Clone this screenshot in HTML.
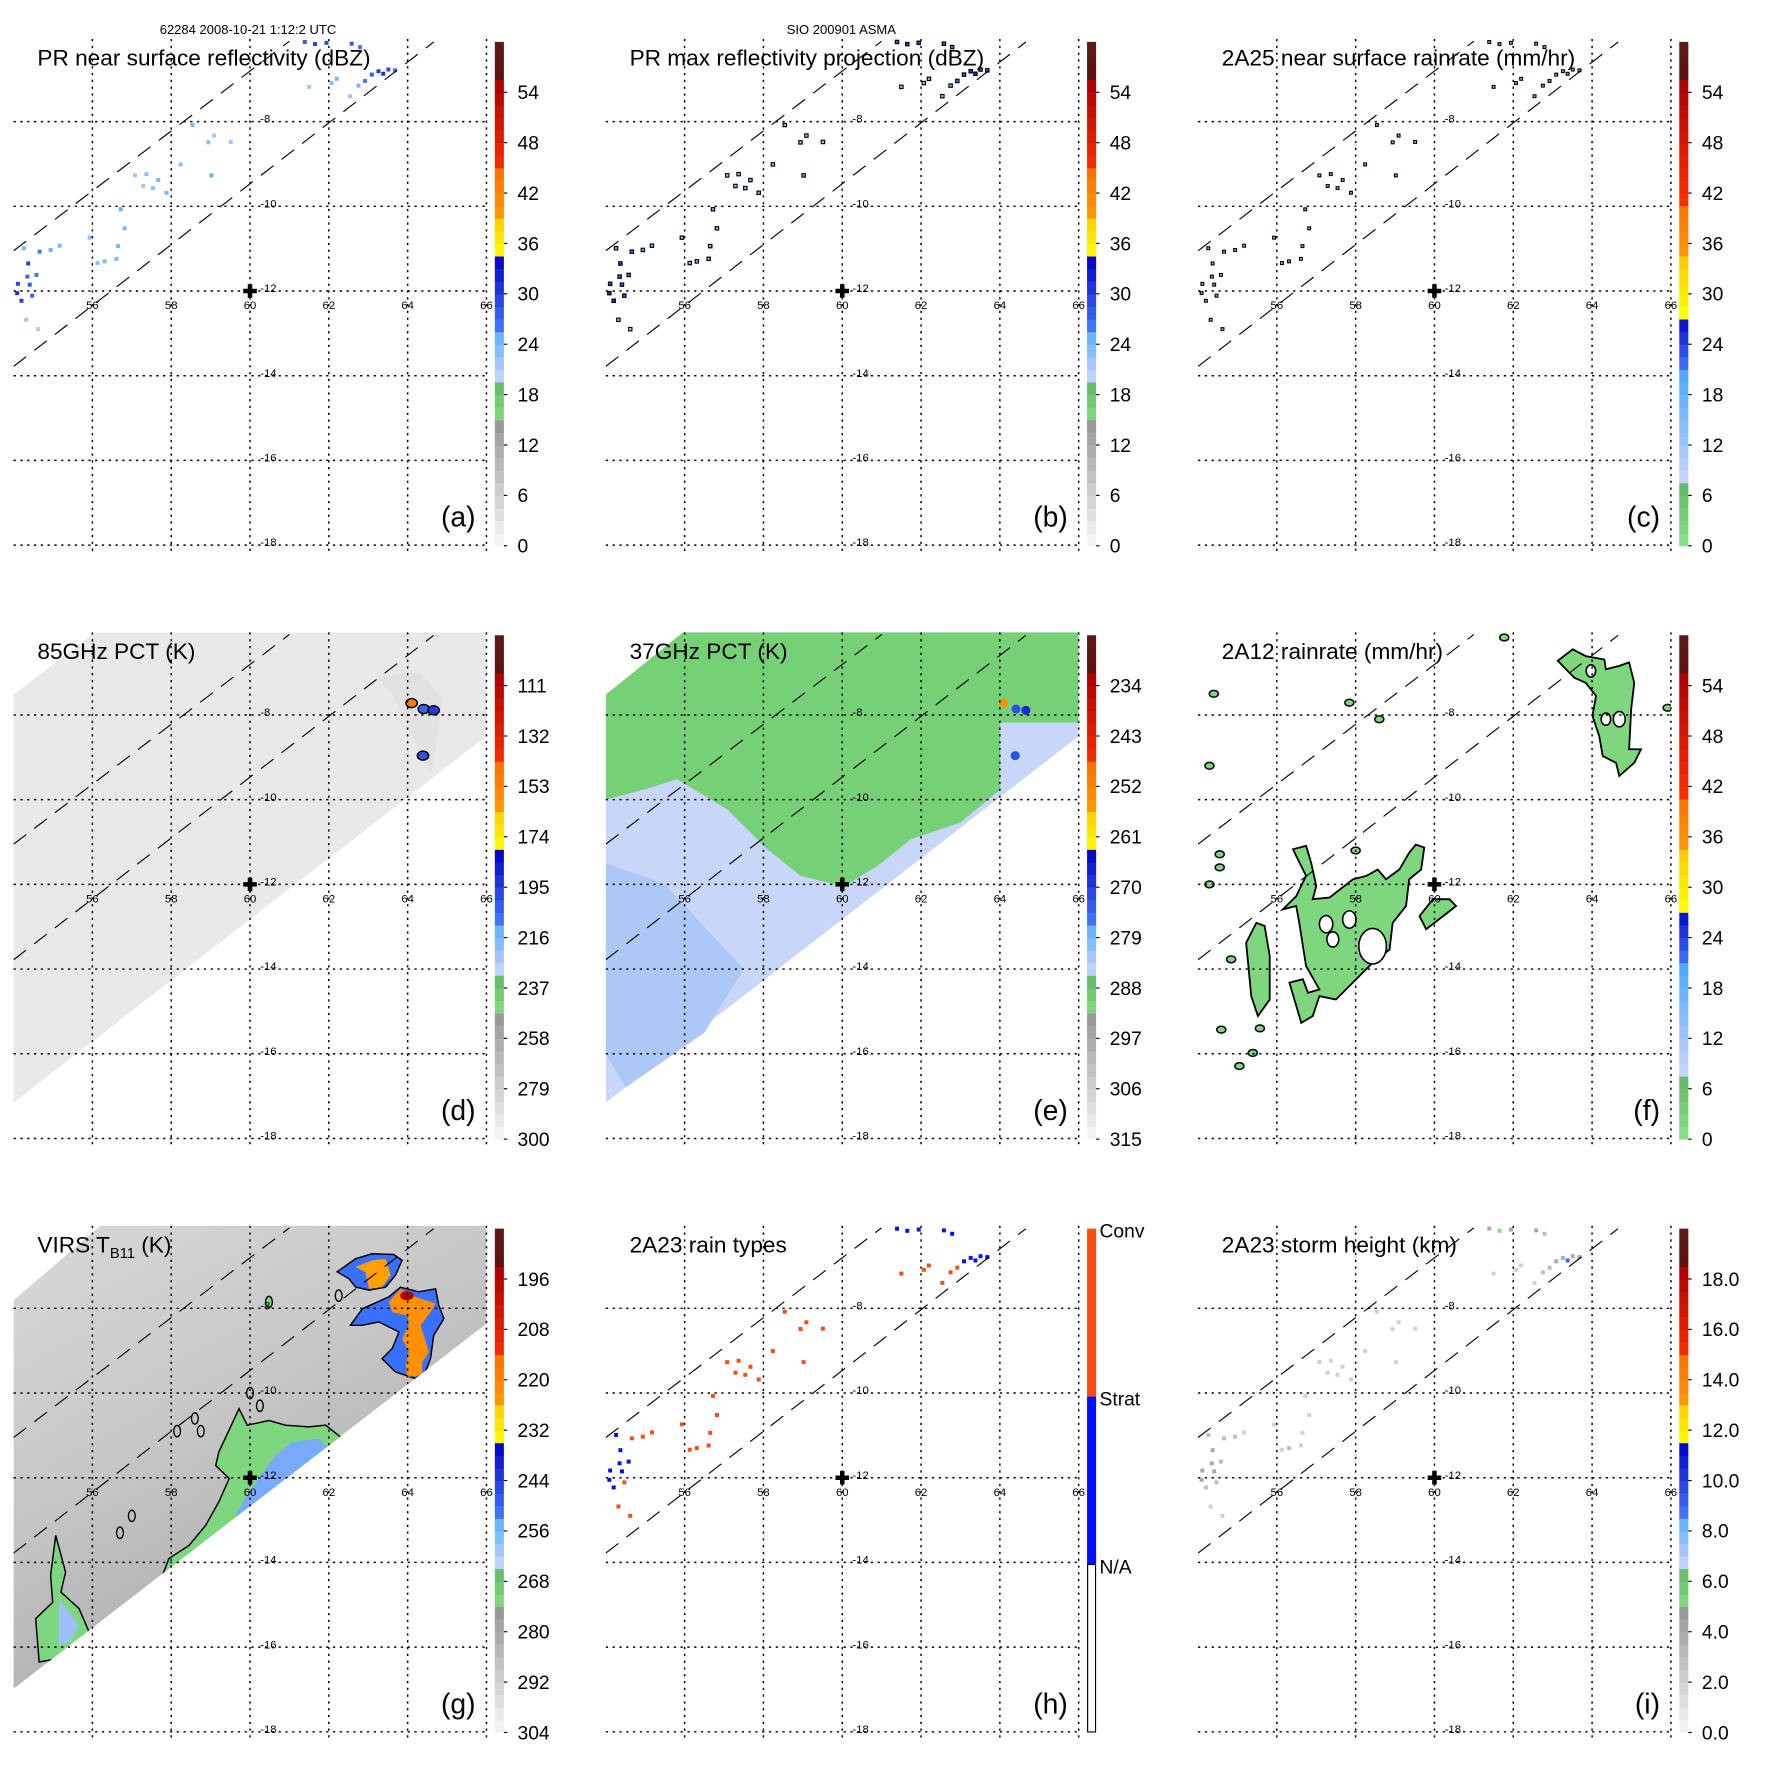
<!DOCTYPE html>
<html><head><meta charset="utf-8"><title>TRMM overpass panels</title>
<style>html,body{margin:0;padding:0;background:#fff}svg{display:block;font-family:"Liberation Sans",sans-serif}</style>
</head><body>
<svg id="fig" xmlns="http://www.w3.org/2000/svg" width="1771" height="1771" viewBox="0 0 1564 1564">
<defs>
<linearGradient id="virsGrad" x1="0" y1="0" x2="0.55" y2="1">
<stop offset="0" stop-color="#d8d8d8"/><stop offset="0.45" stop-color="#c8c8c8"/><stop offset="1" stop-color="#a8a8a8"/>
</linearGradient>
</defs>
<text x="219" y="30" font-size="11.5" text-anchor="middle">62284 2008-10-21 1:12:2 UTC</text>
<text x="743" y="30" font-size="11.5" text-anchor="middle">SIO 200901 ASMA</text>
</svg>
<script>
// ---- data (lon/lat in degrees, values in native units) ----
const lonTicks=[56,58,60,62,64,66];
const latTicks=[-8,-10,-12,-14,-16,-18];
const cellLon=[58.54,59.09,58.94,59.51,58.24,59.02,57.08,57.37,57.67,57.54,57.88,57.29,56.72,56.82,55.93,56.65,56.31,56.61,56.13,55.17,54.66,54.94,54.26,54.37,54.58,54.35,54.41,54.11,54.09,54.20,54.47,54.32,54.62,61.39,61.65,61.94,62.20,62.07,62.54,62.75,62.92,63.09,63.26,63.38,63.51,63.68,61.50,62.58,62.79];
const cellLat=[-8.08,-8.33,-8.49,-8.48,-9.01,-9.27,-9.27,-9.24,-9.38,-9.57,-9.68,-9.52,-10.07,-10.52,-10.74,-10.94,-11.30,-11.24,-11.34,-10.93,-11.07,-11.03,-10.99,-11.35,-11.62,-11.66,-11.85,-11.83,-12.05,-12.23,-12.11,-12.68,-12.90,-6.12,-6.17,-6.14,-6.99,-7.09,-7.40,-7.15,-7.04,-6.89,-6.81,-6.87,-6.77,-6.79,-7.18,-6.16,-6.24];
const cellDbz=[24,22,23,22,23,25,22,23,24,23,24,22,25,24,23,24,24,24,23,24,26,25,24,30,26,27,28,29,31,30,27,22,21,28,30,29,24,23,22,24,26,28,30,31,29,27,22,28,26];
const cellRain=[1,1,1,1,1,2,1,1,1,1,1,1,2,1,1,2,2,1,1,1,2,2,1,3,2,2,3,3,4,3,2,1,1,3,4,3,1,1,1,2,2,3,4,4,3,3,1,3,2];
const cellType=[1,1,1,1,1,1,1,1,1,1,1,1,1,1,1,1,1,1,1,1,1,1,2,2,2,2,2,2,2,2,1,1,1,2,2,2,1,1,1,1,1,2,2,2,2,2,1,2,2];
const cellHeight=[2,2,2,2,2,2,2,2,2,2,2,2,2,2,2,2,3,2,2,2,3,3,3,4,3,4,4,4,4,3,3,2,2,4,5,4,2,2,2,3,3,4,8,9,4,4,2,4,3];
// PR swath edges
const prUpperLon=[54.0,61.0], prUpperLat=[-11.05,-6.1];
const prLowerLon=[54.0,64.66], prLowerLat=[-13.78,-6.12];
// TMI / VIRS swath outlines
const tmiLon=[54,56.1,66,66,54], tmiLat=[-7.52,-6.02,-6.02,-8.5,-17.15];
const virsLon=[54,56.25,66,66,54], virsLat=[-7.81,-6.02,-6.02,-8.36,-16.98];
// 37 GHz warm (green) region
const e37Lon=[54,56,66,66,64.01,64.01,63.0,61.73,60.89,60.04,58.94,58.10,57.08,55.81,54.97,54.0];
const e37Lat=[-7.52,-6.02,-6.02,-8.18,-8.18,-9.76,-10.54,-10.94,-11.57,-12.04,-11.80,-11.17,-10.23,-9.52,-9.76,-10.0];
// convective cores in PCT images
const coreLon=[64.1,64.41,64.66,64.39], coreLat=[-7.72,-7.86,-7.89,-8.96];
const core85=[150,205,195,200], core37=[255,272,268,272];
// 2A12 rain blobs
const fBigLon=[56.41,56.74,56.87,57.0,56.91,57.34,57.93,58.27,58.56,58.77,59.11,59.36,59.53,59.74,59.66,59.36,59.28,58.94,58.86,58.43,57.50,57.08,56.91,56.62,56.32,56.66,56.79,57.08,56.74,56.57,56.49,56.15,56.49,56.74,56.49];
const fBigLat=[-11.17,-11.09,-11.49,-12.04,-12.35,-12.31,-11.88,-11.80,-11.65,-11.88,-11.65,-11.25,-11.06,-11.13,-11.65,-11.88,-12.51,-12.91,-13.54,-13.85,-14.72,-14.64,-15.11,-15.27,-14.32,-14.24,-14.56,-14.48,-13.93,-12.91,-12.51,-12.59,-12.28,-11.80,-11.33];
const fSiteLon=[59.62,59.96,60.38,60.55,59.79], fSiteLat=[-12.75,-12.35,-12.35,-12.51,-13.06];
const fStreakLon=[55.22,55.48,55.69,55.82,55.82,55.52,55.35], fStreakLat=[-13.38,-12.91,-12.98,-13.69,-14.72,-15.11,-14.64];
const fTopLon=[63.13,63.51,63.84,64.31,64.35,64.69,64.94,65.07,64.99,64.94,65.24,65.07,64.69,64.61,64.27,64.18,64.01,64.10,63.84,63.55];
const fTopLat=[-6.72,-6.45,-6.61,-6.69,-6.92,-6.84,-6.76,-7.24,-7.87,-8.81,-8.81,-9.13,-9.44,-9.13,-8.97,-8.50,-8.02,-7.55,-7.24,-7.12];
const fHoleLon=[57.25,57.84,57.42,58.43,63.97,64.69,64.35], fHoleLat=[-12.94,-12.83,-13.30,-13.46,-6.96,-8.10,-8.10];
const fHoleSize=[0.17,0.17,0.15,0.35,0.12,0.15,0.12];
const fSmallLon=[65.92,57.84,58.60,54.29,54.55,54.55,54.29,54.84,54.59,55.05,55.39,61.77,55.57,54.4,58.0];
const fSmallLat=[-7.83,-7.71,-8.10,-9.20,-11.29,-11.60,-12.00,-13.77,-15.43,-16.29,-15.98,-6.17,-15.4,-7.5,-11.2];
// VIRS cold cloud blobs
const gALon=[62.21,62.68,63.10,63.65,63.86,63.69,63.44,63.02,62.68,62.51], gALat=[-7.14,-6.83,-6.71,-6.73,-6.87,-7.22,-7.50,-7.57,-7.50,-7.30];
const gAinLon=[62.68,63.10,63.44,63.57,63.35,63.02,62.93], gAinLat=[-7.02,-6.87,-6.83,-7.22,-7.50,-7.54,-7.15];
const gBLon=[62.55,62.85,63.52,63.82,64.28,64.71,64.79,64.92,64.66,64.58,64.45,64.20,63.69,63.35,63.61,63.78,63.27,62.85];
const gBLat=[-8.40,-8.01,-7.73,-7.50,-7.61,-7.54,-7.93,-8.24,-8.64,-9.19,-9.50,-9.66,-9.50,-9.19,-8.95,-8.56,-8.32,-8.40];
const gBinLon=[63.52,63.82,64.20,64.71,64.58,64.33,64.41,64.54,64.37,64.37,63.99,63.95,64.03,63.86,64.03,63.99,63.61];
const gBinLat=[-7.85,-7.54,-7.73,-7.89,-8.09,-8.40,-8.64,-9.03,-9.27,-9.58,-9.62,-9.35,-9.03,-8.72,-8.40,-8.17,-8.09];
const gBandLon=[59.13,59.21,59.72,59.93,60.48,60.90,61.49,61.92,62.30,57.78,57.94,58.45,58.87,59.21,59.47];
const gBandLat=[-11.71,-11.39,-10.37,-10.76,-10.65,-10.76,-10.80,-10.76,-11.04,-14.31,-13.91,-13.60,-13.13,-12.57,-12.02];
const gBlueLon=[60.65,61.07,61.75,61.96,60.90,59.80,59.63,59.97,60.40], gBlueLat=[-11.47,-11.16,-11.08,-11.28,-12.10,-12.97,-12.89,-12.34,-11.79];
const gLeftLon=[55.07,55.32,55.20,55.66,55.92,55.07,54.65,54.56,54.99,54.94], gLeftLat=[-13.36,-14.23,-14.70,-15.09,-15.65,-16.28,-16.35,-15.33,-14.94,-14.31];
const gLeftBlueLon=[55.15,55.66,55.41,55.15], gLeftBlueLat=[-14.86,-15.49,-15.88,-15.96];
const gSmallLon=[60.48,58.6,58.75,60.0,60.25,57.0,62.25,56.7,58.15], gSmallLat=[-7.85,-10.6,-10.9,-10.0,-10.3,-12.9,-7.7,-13.3,-10.9];
// colour-bar labels
const cbDbzLabels=['54','48','42','36','30','24','18','12','6','0'];
const cb85Labels=['111','132','153','174','195','216','237','258','279','300'];
const cb37Labels=['234','243','252','261','270','279','288','297','306','315'];
const cbVirsLabels=['196','208','220','232','244','256','268','280','292','304'];
const cbHtLabels=['18.0','16.0','14.0','12.0','10.0','8.0','6.0','4.0','2.0','0.0'];
const typeLabels=['Conv','Strat','N/A'];

const NS='http://www.w3.org/2000/svg';
const svg=document.getElementById('fig');
function mk(tag,attrs,parent){const e=document.createElementNS(NS,tag);for(const k in attrs)e.setAttribute(k,attrs[k]);(parent||svg).appendChild(e);return e;}

const segA=[[0,0.238,'#f8f8f8','#9a9a9a'],[0.238,0.322,'#8ae28a','#66b866'],[0.322,0.42,'#d0d8ff','#60b0ff'],[0.42,0.573,'#4a80ff','#0000c8'],[0.573,0.657,'#ffff00','#ffc800'],[0.657,0.741,'#ff9800','#ff7000'],[0.741,0.916,'#ff3000','#b00000'],[0.916,1,'#601008','#5a1a1a']];
const segC=[[0,0.117,'#8ae28a','#66b866'],[0.117,0.34,'#d0d8ff','#50a8ff'],[0.34,0.458,'#4a80ff','#0000c8'],[0.458,0.575,'#ffff00','#ffc800'],[0.575,0.68,'#ff9800','#ff7000'],[0.68,0.916,'#ff3000','#b00000'],[0.916,1,'#601008','#5a1a1a']];
function hex(c){return [parseInt(c.substr(1,2),16),parseInt(c.substr(3,2),16),parseInt(c.substr(5,2),16)];}
function mix(a,b,t){const A=hex(a),B=hex(b);return 'rgb('+A.map((v,i)=>Math.round(v+(B[i]-v)*t)).join(',')+')';}
function colorAt(f,seg){f=Math.max(0,Math.min(0.999,f));for(const s of seg){if(f>=s[0]&&f<s[1])return mix(s[2],s[3],(f-s[0])/(s[1]-s[0]));}return seg[seg.length-1][3];}

function axes(col,row){
  const cx=col*523, ry=row*524;
  return {X:lon=>cx+12+(lon-54)*34.8, Y:lat=>ry+257+(-12-lat)*37.4, cx, ry};
}
function poly(ax,lons,lats,attrs,parent,name){
  const pts=lons.map((l,i)=>ax.X(l).toFixed(1)+','+ax.Y(lats[i]).toFixed(1)).join(' ');
  const p=mk('polygon',Object.assign({points:pts},attrs),parent);
  
  
  return p;
}

const panels=[
 {id:'a',title:'PR near surface reflectivity (dBZ)',seg:segA,labels:cbDbzLabels},
 {id:'b',title:'PR max reflectivity projection (dBZ)',seg:segA,labels:cbDbzLabels},
 {id:'c',title:'2A25 near surface rainrate (mm/hr)',seg:segC,labels:cbDbzLabels},
 {id:'d',title:'85GHz PCT (K)',seg:segA,labels:cb85Labels},
 {id:'e',title:'37GHz PCT (K)',seg:segA,labels:cb37Labels},
 {id:'f',title:'2A12 rainrate (mm/hr)',seg:segC,labels:cbDbzLabels},
 {id:'g',title:'VIRS',seg:segA,labels:cbVirsLabels},
 {id:'h',title:'2A23 rain types',seg:null,labels:typeLabels},
 {id:'i',title:'2A23 storm height (km)',seg:segA,labels:cbHtLabels}
];

panels.forEach((p,idx)=>{
  const col=idx%3,row=Math.floor(idx/3);
  const ax=axes(col,row);
  const g=mk('g',{});
  
  
  const cid='clip'+p.id;
  const cp=mk('clipPath',{id:cid},g);
  mk('rect',{x:ax.X(54),y:ax.Y(-6.05),width:ax.X(66)-ax.X(54),height:ax.Y(-18.1)-ax.Y(-6.05)},cp);
  const data=mk('g',{'clip-path':'url(#'+cid+')'},g);
  
  

  if(p.id==='d'){
    poly(ax,tmiLon,tmiLat,{fill:'#e9e9e9'},data,'tmi-swath');
    poly(ax,[63.2,64.3,64.9,64.6,63.6],[-7.1,-7.0,-7.6,-9.4,-7.5],{fill:'#e2e2e2'},data,'pct85-shadow');
    coreLon.forEach((l,i)=>{const c=mk('ellipse',{cx:ax.X(l),cy:ax.Y(coreLat[i]),rx:5,ry:4,fill:colorAt((300-core85[i])/210,segA),stroke:'#000','stroke-width':1.3},data);
      
      });
  }
  if(p.id==='e'){
    poly(ax,tmiLon,tmiLat,{fill:'#c8d6fa'},data,'tmi37-swath');
    poly(ax,[54,55.5,56.5,57.5,56.5,54.5,54],[-11.5,-12.0,-13.0,-14.0,-15.5,-16.8,-16.0],{fill:'#abc8f6'},data,'cold-37-band');
    poly(ax,e37Lon,e37Lat,{fill:'#76d076'},data,'warm-37-region');
    coreLon.forEach((l,i)=>{const c=mk('ellipse',{cx:ax.X(l),cy:ax.Y(coreLat[i]),rx:4,ry:4,fill:colorAt((315-core37[i])/90,segA)},data);
      
      });
  }
  if(p.id==='f'){
    [[fBigLon,fBigLat],[fStreakLon,fStreakLat],[fTopLon,fTopLat],[fSiteLon,fSiteLat]].forEach(b=>poly(ax,b[0],b[1],{fill:'#7ed67e',stroke:'#000','stroke-width':1.6},data,'rain-blob'));
    fHoleLon.forEach((l,i)=>{const c=mk('ellipse',{cx:ax.X(l),cy:ax.Y(fHoleLat[i]),rx:fHoleSize[i]*34.8,ry:fHoleSize[i]*37.4*1.2,fill:'#fff',stroke:'#000','stroke-width':1.4},data);
      
      });
    fSmallLon.forEach((l,i)=>{const c=mk('ellipse',{cx:ax.X(l),cy:ax.Y(fSmallLat[i]),rx:4,ry:3,fill:'#7ed67e',stroke:'#000','stroke-width':1.3},data);
      
      });
  }
  if(p.id==='g'){
    poly(ax,virsLon,virsLat,{fill:'url(#virsGrad)'},data,'virs-swath');
    const vc=mk('clipPath',{id:'vclip'},g);
    poly(ax,virsLon,virsLat,{},vc,'virs-clip');
    const cl=mk('g',{'clip-path':'url(#vclip)'},data);
    poly(ax,gBandLon,gBandLat,{fill:'#7ed67e',stroke:'#000','stroke-width':1.3},cl,'warm-cloud-band');
    poly(ax,gBlueLon,gBlueLat,{fill:'#7aaaff'},cl,'cold-cloud-band');
    poly(ax,gLeftLon,gLeftLat,{fill:'#7ed67e',stroke:'#000','stroke-width':1.3},cl,'cloud-left');
    poly(ax,gLeftBlueLon,gLeftBlueLat,{fill:'#9cc0ff'},cl,'cloud-left-cold');
    poly(ax,gALon,gALat,{fill:'#3a70ff',stroke:'#000','stroke-width':1.3},cl,'cold-top-a');
    poly(ax,gAinLon,gAinLat,{fill:'#ffa000'},cl,'cold-core-a');
    poly(ax,gBLon,gBLat,{fill:'#3a70ff',stroke:'#000','stroke-width':1.3},cl,'cold-top-b');
    poly(ax,gBinLon,gBinLat,{fill:'#ff9000'},cl,'cold-core-b');
    const dr=mk('ellipse',{cx:ax.X(63.98),cy:ax.Y(-7.7),rx:6,ry:4,fill:'#b00000'},cl);
    
    
    gSmallLon.forEach((l,i)=>{const c=mk('ellipse',{cx:ax.X(l),cy:ax.Y(gSmallLat[i]),rx:3,ry:5,fill:i===0?'#7ed67e':'none',stroke:'#000','stroke-width':1.2},cl);
      
      });
  }
  if(['a','b','c','h','i'].includes(p.id)){
    cellLon.forEach((l,i)=>{
      let fill,stroke='none',w=3.5,h=3.5;
      if(p.id==='a') fill=colorAt(cellDbz[i]/60,segA);
      if(p.id==='b'){fill=colorAt(cellDbz[i]/60,segA);stroke='#000';w=3;h=3;}
      if(p.id==='c'){fill=colorAt(cellRain[i]/60,segC);stroke='#000';w=2.5;h=2.5;}
      if(p.id==='h') fill=cellType[i]===1?'#ff4a10':'#0010ff';
      if(p.id==='i') fill=colorAt(cellHeight[i]/20,segA);
      const r=mk('rect',{x:ax.X(l)-w/2,y:ax.Y(cellLat[i])-h/2,width:w,height:h,fill:fill,stroke:stroke,'stroke-width':1},data);
      
      
    });
  }
  // grid
  lonTicks.forEach(l=>{const ln=mk('line',{x1:ax.X(l),x2:ax.X(l),y1:ax.Y(-6.05),y2:ax.Y(-18.15),stroke:'#000','stroke-width':1.3,'stroke-dasharray':'2,4'},g);
    
    
    const t=mk('text',{x:ax.X(l),y:ax.Y(-12)+16,'font-size':10,'text-anchor':'middle'},g);t.textContent=String(l);
    
    });
  latTicks.forEach(l=>{const ln=mk('line',{x1:ax.X(54),x2:ax.X(66),y1:ax.Y(l),y2:ax.Y(l),stroke:'#000','stroke-width':1.3,'stroke-dasharray':'2,4'},g);
    
    
    const t=mk('text',{x:ax.X(60)+9,y:ax.Y(l)+1,'font-size':10},g);t.textContent=String(l);
    
    });
  // PR swath edges
  const sw=mk('g',{'clip-path':'url(#'+cid+')'},g);
  [[prUpperLon,prUpperLat],[prLowerLon,prLowerLat]].forEach(s=>{
    const ln=mk('line',{x1:ax.X(s[0][0]),y1:ax.Y(s[1][0]),x2:ax.X(s[0][1]),y2:ax.Y(s[1][1]),stroke:'#000','stroke-width':1,'stroke-dasharray':'14,9'},sw);
    
    });
  // site marker
  const cx0=ax.X(60),cy0=ax.Y(-12);
  const pl=mk('path',{d:`M${cx0-6} ${cy0}H${cx0+6}M${cx0} ${cy0-6}V${cy0+6}`,stroke:'#000','stroke-width':4},g);
  
  
  // title
  const tt=mk('text',{x:ax.cx+33,y:ax.ry+58,'font-size':20},g);
  
  
  if(p.id==='g'){tt.innerHTML='VIRS T<tspan font-size="13" dy="5">B11</tspan><tspan dy="-5"> (K)</tspan>';}
  else tt.textContent=p.title;
  const pl2=mk('text',{x:ax.cx+420,y:ax.ry+465,'font-size':25,'text-anchor':'end'},g);pl2.textContent='('+p.id+')';
  
  
  // colour bar
  const cb=mk('g',{},g);
  
  
  const bx=ax.cx+437,top=ax.ry+37,bot=ax.ry+482,H=bot-top;
  if(p.seg){
    const N=40;
    for(let k=0;k<N;k++){
      const f=(k+0.5)/N;
      mk('rect',{x:bx,y:bot-(k+1)*H/N,width:8,height:H/N+0.4,fill:colorAt(f,p.seg)},cb);
    }
    p.labels.forEach((lb,k)=>{
      const y=bot-(54-6*k)/60*H;
      mk('line',{x1:bx+8,x2:bx+11,y1:y,y2:y,stroke:'#000'},cb);
      const t=mk('text',{x:bx+20,y:y+6,'font-size':17},cb);t.textContent=lb;
      
      
    });
  } else {
    mk('rect',{x:bx,y:top,width:8,height:H/3,fill:'#ff4a10'},cb);
    mk('rect',{x:bx,y:top+H/3,width:8,height:H/3,fill:'#0010ff'},cb);
    mk('rect',{x:bx+0.5,y:top+2*H/3,width:7,height:H/3-0.5,fill:'#fff',stroke:'#000','stroke-width':1},cb);
    p.labels.forEach((lb,k)=>{
      const t=mk('text',{x:bx+11,y:top+k*H/3+8,'font-size':17},cb);t.textContent=lb;
      
      
    });
  }
});
</script>
</body></html>
